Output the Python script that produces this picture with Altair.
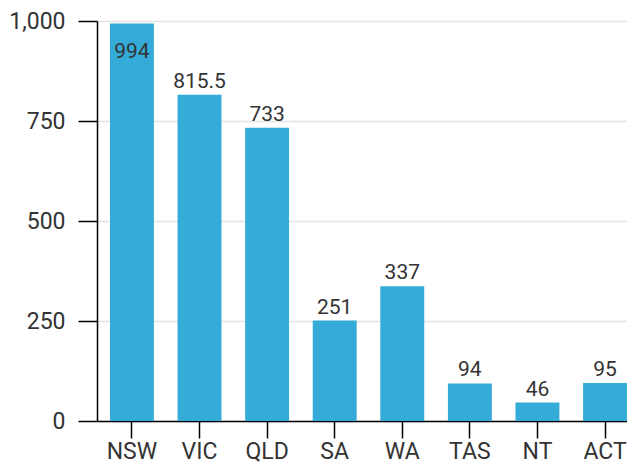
import altair as alt
import pandas as pd

states = ["NSW", "VIC", "QLD", "SA", "WA", "TAS", "NT", "ACT"]
values = [994, 815.5, 733, 251, 337, 94, 46, 95]
y_ticks = [0, 250, 500, 750, 1000]

df = pd.DataFrame({"state": states, "value": values})

FONT = "Roboto"
BAR = "#35abd8"
TXT = "#333333"

x_enc = alt.X(
    "state:N",
    sort=states,
    title=None,
    scale=alt.Scale(paddingInner=0.35, paddingOuter=0.096, align=1),
    axis=alt.Axis(
        labelAngle=0, labelFontSize=23, labelFont=FONT, labelColor=TXT,
        tickSize=17, tickColor="#000", tickWidth=1.5,
        domainColor="#000", domainWidth=1.5, labelPadding=2, grid=False,
    ),
)
y_enc = alt.Y(
    "value:Q",
    title=None,
    scale=alt.Scale(domain=[0, 1000], nice=False),
    axis=alt.Axis(
        values=y_ticks, format=",.0f", labelFontSize=23, labelFont=FONT, labelColor=TXT,
        tickSize=19, tickColor="#000", tickWidth=1.5, labelPadding=13,
        domainColor="#000", domainWidth=1.5,
        grid=True, gridColor="#e4e4e4", gridWidth=1.5,
    ),
)

base = alt.Chart(df)
bars = base.mark_bar(color=BAR).encode(x=x_enc, y=y_enc)
labels_out = base.transform_filter("datum.value < 950").mark_text(
    font=FONT, fontSize=21, color=TXT, baseline="alphabetic", dy=-7
).encode(x=alt.X("state:N", sort=states), y="value:Q", text="value:Q")
labels_in = base.transform_filter("datum.value >= 950").mark_text(
    font=FONT, fontSize=21, color=TXT, baseline="alphabetic", dy=35
).encode(x=alt.X("state:N", sort=states), y="value:Q", text="value:Q")

chart = (
    alt.layer(bars, labels_out, labels_in)
    .properties(width=619, height=455,
                autosize=alt.AutoSizeParams(type="fit", contains="padding"),
                padding={"left": 0, "top": 2, "right": 0, "bottom": 0})
    .configure_view(stroke=None)
)

chart.save("out.html", embed_options={"renderer": "svg", "actions": False})
